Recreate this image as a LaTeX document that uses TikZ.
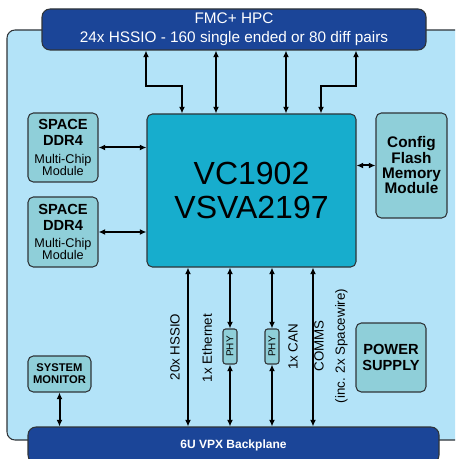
\documentclass[tikz,border=0pt]{standalone}
\usepackage{fontspec}
\setmainfont{Liberation Sans}
\usetikzlibrary{arrows.meta}
\definecolor{hubblue}{HTML}{1B4598}
\definecolor{boardblue}{HTML}{B3E3F8}
\definecolor{chipcyan}{HTML}{17ADCD}
\definecolor{modteal}{HTML}{8FCFD9}
\definecolor{edgegray}{HTML}{2F3438}
\newcommand{\smalltext}{\fontsize{9.5}{10}\selectfont\mdseries}
\newcommand{\ddrtext}{SPACE\\DDR4\\[1pt]\smalltext Multi-Chip\\[-3pt]\smalltext Module}
\begin{document}
\begin{tikzpicture}[
    x=0.75pt, y=-0.75pt,
    conn/.style={draw=edgegray, line width=0.8pt, fill=hubblue, rounded corners=6pt, text=white, align=center, inner sep=0pt},
    module/.style={draw=edgegray, line width=0.8pt, fill=modteal, rounded corners=4pt, align=center, inner sep=0pt},
    link/.style={line width=1.5pt, {Latex[length=5pt,width=4.5pt]}-{Latex[length=5pt,width=4.5pt]}},
    lbl/.style={rotate=90, font=\fontsize{10}{16}\selectfont, align=center},
  ]
    \clip (0,0) rectangle (455,459);

    % Carte
    \draw[edgegray, line width=0.8pt, fill=boardblue, rounded corners=6pt] (7,30) rectangle (475,440);

    % Connecteurs
    \node[conn, minimum width=288pt, minimum height=30.75pt, font=\fontsize{11.5}{14}\selectfont] (fmc) at (234,29.5)
      {FMC+ HPC\\24x HSSIO - 160 single ended or 80 diff pairs};
    \node[conn, minimum width=308.25pt, minimum height=27pt, font=\fontsize{9}{11}\selectfont\bfseries] (bp) at (233.5,445)
      {6U VPX Backplane};

    % FPGA
    \node[module, fill=chipcyan, minimum width=156.75pt, minimum height=114.75pt, font=\fontsize{24}{25.5}\selectfont] (chip) at (251.5,190.5)
      {VC1902\\VSVA2197};

    % Modules
    \node[module, minimum width=52.5pt, minimum height=51.75pt, font=\fontsize{11}{12}\selectfont\bfseries] (ddrA) at (63,147.5) {\ddrtext};
    \node[module, minimum width=52.5pt, minimum height=52.5pt, font=\fontsize{11}{12}\selectfont\bfseries] (ddrB) at (63,232) {\ddrtext};
    \node[module, minimum width=53.25pt, minimum height=78.75pt, font=\fontsize{11.5}{11.5}\selectfont\bfseries] (flash) at (411.5,165.5)
      {Config\\Flash\\Memory\\Module};
    \node[module, minimum width=47.25pt, minimum height=27pt, font=\fontsize{8.4}{9}\selectfont\bfseries] (sysmon) at (59.5,374)
      {SYSTEM\\MONITOR};
    \node[module, minimum width=52.5pt, minimum height=51.75pt, font=\fontsize{11}{12}\selectfont\bfseries] (power) at (391,357.5)
      {POWER\\SUPPLY};
    \node[module, rotate=90, minimum width=26.25pt, minimum height=10.5pt, rounded corners=2pt, font=\fontsize{7.5}{8}\selectfont] (phyA) at (230,346.5) {PHY};
    \node[module, rotate=90, minimum width=26.25pt, minimum height=10.5pt, rounded corners=2pt, font=\fontsize{7.5}{8}\selectfont] (phyB) at (272,346.5) {PHY};

    % FMC vers FPGA
    \coordinate (fa) at (146,86);
    \coordinate (fb) at (182,86);
    \coordinate (fc) at (216,86);
    \coordinate (fd) at (286,86);
    \coordinate (fe) at (356,86);
    \coordinate (ff) at (321,86);
    \draw[link] (fmc.south -| fa) -- (fa) -| (chip.north -| fb);
    \draw[link] (fmc.south -| fc) -- (chip.north -| fc);
    \draw[link] (fmc.south -| fd) -- (chip.north -| fd);
    \draw[link] (fmc.south -| fe) -- (fe) -| (chip.north -| ff);

    % Memoires
    \draw[link] (ddrA.east) -- (ddrA.east -| chip.west);
    \draw[link] (ddrB.east) -- (ddrB.east -| chip.west);
    \draw[link] (flash.west) -- (flash.west -| chip.east);

    % FPGA vers fond de panier
    \coordinate (ba) at (188,300);
    \coordinate (bd) at (313,300);
    \draw[link] (chip.south -| ba) -- (bp.north -| ba);
    \draw[link] (chip.south -| phyA) -- (phyA.east);
    \draw[link] (phyA.west) -- (bp.north -| phyA);
    \draw[link] (chip.south -| phyB) -- (phyB.east);
    \draw[link] (phyB.west) -- (bp.north -| phyB);
    \draw[link] (chip.south -| bd) -- (bp.north -| bd);
    \draw[link] (sysmon.south) -- (bp.north -| sysmon);

    % Libelles
    \node[lbl] (lhssio) at (175,347) {20x HSSIO};
    \node[lbl] (leth) at (207,348) {1x Ethernet};
    \node[lbl] (lcan) at (293,347) {1x CAN};
    \node[lbl] (lcomms) at (331,346) {COMMS\\(inc. 2x Spacewire)};
  \end{tikzpicture}
\end{document}
